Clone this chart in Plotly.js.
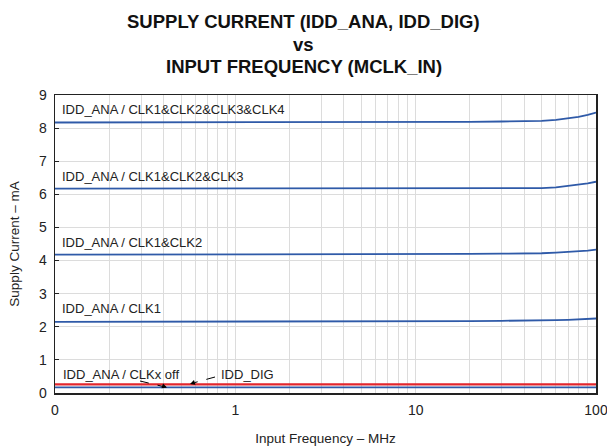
<!DOCTYPE html>
<html>
<head>
<meta charset="utf-8">
<script src="https://cdn.plot.ly/plotly-3.0.1.min.js"></script>
<style>html,body{margin:0;padding:0;background:#fff;}#chart{width:607px;height:447px;}</style>
</head>
<body>
<div id="chart"></div>
<script>
// Input frequency (MHz)
const freq = [0.1, 0.2, 0.5, 1, 2, 5, 10, 20, 30, 40, 50, 60, 70, 80, 90, 100];
// Supply current (mA)
const anaClk1234 = [8.17, 8.17, 8.17, 8.17, 8.17, 8.17, 8.18, 8.19, 8.2, 8.21, 8.22, 8.25, 8.29, 8.34, 8.4, 8.47];
const anaClk123  = [6.17, 6.17, 6.17, 6.17, 6.17, 6.17, 6.17, 6.17, 6.18, 6.18, 6.19, 6.21, 6.25, 6.29, 6.33, 6.38];
const anaClk12   = [4.18, 4.18, 4.18, 4.18, 4.18, 4.18, 4.19, 4.2, 4.21, 4.21, 4.22, 4.24, 4.26, 4.28, 4.3, 4.33];
const anaClk1    = [2.15, 2.15, 2.15, 2.15, 2.15, 2.15, 2.16, 2.17, 2.18, 2.18, 2.19, 2.2, 2.21, 2.22, 2.24, 2.25];
const anaOff     = [0.17, 0.17, 0.17, 0.17, 0.17, 0.17, 0.17, 0.17, 0.17, 0.17, 0.17, 0.17, 0.17, 0.17, 0.17, 0.17];
const dig        = [0.26, 0.26, 0.26, 0.26, 0.26, 0.26, 0.26, 0.26, 0.26, 0.26, 0.26, 0.26, 0.26, 0.26, 0.26, 0.26];

const seriesNames = ['IDD_ANA / CLK1&CLK2&CLK3&CLK4', 'IDD_ANA / CLK1&CLK2&CLK3', 'IDD_ANA / CLK1&CLK2', 'IDD_ANA / CLK1', 'IDD_ANA / CLKx off', 'IDD_DIG'];
const labelY = [8.55, 6.55, 4.55, 2.55];
const titleLines = ['SUPPLY CURRENT (IDD_ANA, IDD_DIG)', 'vs', 'INPUT FREQUENCY (MCLK_IN)'];

// X tick grid (log decades) and labels
const xTickVals = [0.1,0.2,0.3,0.4,0.5,0.6,0.7,0.8,0.9,1,2,3,4,5,6,7,8,9,10,20,30,40,50,60,70,80,90,100];
const xMajor = {0.1: '0', 1: '1', 10: '10', 100: '100'};
const xTickText = xTickVals.map(v => xMajor[v] !== undefined ? xMajor[v] : '');

const BLUE = '#2f5aa8';
const RED = '#e3262d';
const ys = [anaClk1234, anaClk123, anaClk12, anaClk1, anaOff, dig];
const traces = ys.map((y, i) => ({
  x: freq, y: y, type: 'scatter', mode: 'lines', name: seriesNames[i],
  line: {color: i === 5 ? RED : BLUE, width: i === 5 ? 2.2 : 1.8},
  hoverinfo: 'skip'
}));

const annFont = {family: 'Liberation Sans, Arial, sans-serif', size: 13, color: '#222'};
const annotations = labelY.map((yv, i) => ({
  x: 0, xref: 'paper', xanchor: 'left', xshift: 5,
  y: yv, yref: 'y', yanchor: 'middle', yshift: 0,
  text: seriesNames[i], showarrow: false, font: annFont
}));
// paper coordinate helpers (plot area: x 55..596, y 95..393)
const px = p => (p - 55) / 541;
const py = p => (393 - p) / 298;
// title lines as annotations (centered on the page)
const titleRowsPx = [21, 44, 67];
titleLines.forEach((t, i) => annotations.push({
  x: px(303.5), xref: 'paper', xanchor: 'center', y: py(titleRowsPx[i]), yref: 'paper', yanchor: 'middle',
  text: '<b>' + t + '</b>', showarrow: false,
  font: {family: 'Liberation Sans, Arial, sans-serif', size: 18.5, color: '#111'}
}));
annotations.push({x: px(61), xref: 'paper', xanchor: 'left', y: py(374), yref: 'paper', yanchor: 'middle',
  text: seriesNames[4], showarrow: false, font: annFont});
annotations.push({x: px(219), xref: 'paper', xanchor: 'left', y: py(374), yref: 'paper', yanchor: 'middle',
  text: seriesNames[5], showarrow: false, font: annFont});
// arrowheads
annotations.push({x: px(167), xref: 'paper', y: py(387.5), yref: 'paper', ax: -6, ay: -2, showarrow: true,
  arrowhead: 2, arrowsize: 1, arrowwidth: 1, arrowcolor: '#000', text: ''});
annotations.push({x: px(190), xref: 'paper', y: py(384), yref: 'paper', ax: 6, ay: -2, showarrow: true,
  arrowhead: 2, arrowsize: 1, arrowwidth: 1, arrowcolor: '#000', text: ''});

const shapes = [
  {type: 'line', xref: 'paper', yref: 'paper', x0: px(140), y0: py(381), x1: px(163), y1: py(386.5), line: {color: '#000', width: 1, dash: 'dash'}},
  {type: 'line', xref: 'paper', yref: 'paper', x0: px(215), y0: py(377), x1: px(195), y1: py(382.5), line: {color: '#000', width: 1, dash: 'dash'}}
];

const layout = {
  width: 607, height: 447,
  margin: {l: 55, r: 11, t: 95, b: 54},
  paper_bgcolor: '#fff', plot_bgcolor: '#fff',
  showlegend: false,
  font: {family: 'Liberation Sans, Arial, sans-serif', color: '#222'},
  xaxis: {
    type: 'log', range: [-1, 2],
    tickmode: 'array', tickvals: xTickVals, ticktext: xTickText,
    ticks: '', showgrid: true, gridcolor: '#dcdcdc', gridwidth: 1,
    showline: true, linecolor: '#222', linewidth: 1.5, mirror: true, zeroline: false,
    tickfont: {size: 14, color: '#222'}, ticklabelstandoff: 4, ticklabeloverflow: 'allow',
    title: {text: 'Input Frequency – MHz', font: {size: 13.5, color: '#222'}, standoff: 16}
  },
  yaxis: {
    range: [0, 9], dtick: 1, tick0: 0,
    ticks: 'inside', ticklen: 4, tickcolor: '#222',
    showgrid: true, gridcolor: '#dcdcdc', gridwidth: 1,
    showline: true, linecolor: '#222', linewidth: 1.5, mirror: true, zeroline: false,
    tickfont: {size: 14, color: '#222'}, ticklabelstandoff: 4,
    title: {text: 'Supply Current – mA', font: {size: 13.5, color: '#222'}, standoff: 16}
  },
  annotations: annotations,
  shapes: shapes
};

Plotly.newPlot('chart', traces, layout, {displayModeBar: false, staticPlot: true});
</script>
</body>
</html>
